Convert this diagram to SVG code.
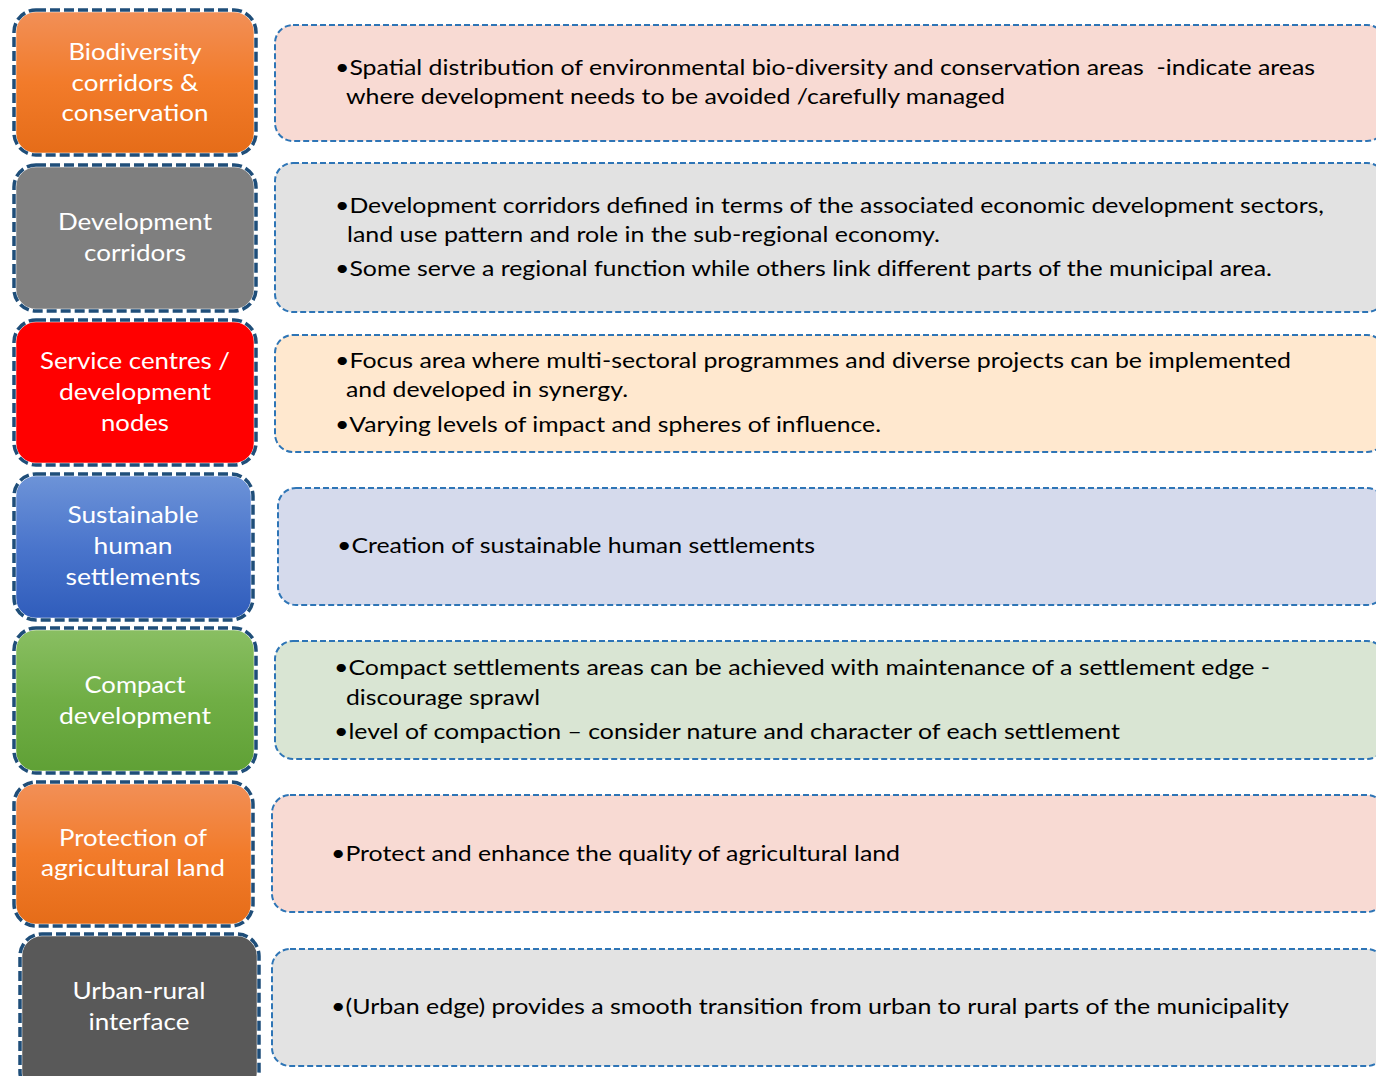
<svg xmlns="http://www.w3.org/2000/svg" width="1376" height="1076" viewBox="0 0 1376 1076">
<defs>
<linearGradient id="gOrange" x1="0" y1="0" x2="0" y2="1"><stop offset="0" stop-color="#F29058"/><stop offset="0.5" stop-color="#F27B2A"/><stop offset="1" stop-color="#E56C18"/></linearGradient>
<linearGradient id="gBlue" x1="0" y1="0" x2="0" y2="1"><stop offset="0" stop-color="#6E94D8"/><stop offset="0.5" stop-color="#4A75CC"/><stop offset="1" stop-color="#2F5CBB"/></linearGradient>
<linearGradient id="gGreen" x1="0" y1="0" x2="0" y2="1"><stop offset="0" stop-color="#8ABF63"/><stop offset="0.5" stop-color="#70AE45"/><stop offset="1" stop-color="#5FA035"/></linearGradient>
</defs>
<style>
.lw{fill:none;stroke:#ffffff;stroke-width:4.5}
.ld{fill:none;stroke:#1F4E79;stroke-width:3.5;stroke-dasharray:10 4}
.rb{stroke:#2E75B6;stroke-width:2;stroke-dasharray:6 3}
.lt{font-family:Lato,"Open Sans","Liberation Sans",sans-serif;font-size:24px;fill:#ffffff;text-anchor:middle}
.rt{font-family:Lato,"Open Sans","Liberation Sans",sans-serif;font-size:22px;fill:#000000}
</style>
<rect width="1376" height="1076" fill="#ffffff"/>
<g id="connectors"/>

<g id="node-biodiversity">
<rect x="14" y="10" width="242" height="145" rx="22" fill="url(#gOrange)"/>
<rect x="14" y="10" width="242" height="145" rx="22" class="lw"/>
<rect x="14" y="10" width="242" height="145" rx="22" class="ld"/>
<text class="lt" x="135" y="60" textLength="133" lengthAdjust="spacingAndGlyphs">Biodiversity</text>
<text class="lt" x="135" y="91" textLength="127" lengthAdjust="spacingAndGlyphs">corridors &amp;</text>
<text class="lt" x="135" y="121" textLength="147" lengthAdjust="spacingAndGlyphs">conservation</text>
</g>
<g id="desc-biodiversity">
<rect x="275" y="25" width="1110" height="116" rx="18" fill="#F8DAD3" class="rb"/>
<text class="rt" x="335" y="75" textLength="980" lengthAdjust="spacingAndGlyphs">•Spatial distribution of environmental bio-diversity and conservation areas &#160;-indicate areas</text>
<text class="rt" x="346" y="104" textLength="659" lengthAdjust="spacingAndGlyphs">where development needs to be avoided /carefully managed</text>
</g>

<g id="node-devcorridors">
<rect x="14" y="165" width="242" height="146" rx="22" fill="#7F7F7F"/>
<rect x="14" y="165" width="242" height="146" rx="22" class="lw"/>
<rect x="14" y="165" width="242" height="146" rx="22" class="ld"/>
<text class="lt" x="135" y="230" textLength="154" lengthAdjust="spacingAndGlyphs">Development</text>
<text class="lt" x="135" y="261" textLength="102" lengthAdjust="spacingAndGlyphs">corridors</text>
</g>
<g id="desc-devcorridors">
<rect x="275" y="163" width="1110" height="149" rx="18" fill="#E2E2E2" class="rb"/>
<text class="rt" x="335" y="213" textLength="989" lengthAdjust="spacingAndGlyphs">•Development corridors defined in terms of the associated economic development sectors,</text>
<text class="rt" x="347" y="242" textLength="593" lengthAdjust="spacingAndGlyphs">land use pattern and role in the sub-regional economy.</text>
<text class="rt" x="335" y="276" textLength="937" lengthAdjust="spacingAndGlyphs">•Some serve a regional function while others link different parts of the municipal area.</text>
</g>

<g id="node-service">
<rect x="14" y="320" width="242" height="145" rx="22" fill="#FF0000"/>
<rect x="14" y="320" width="242" height="145" rx="22" class="lw"/>
<rect x="14" y="320" width="242" height="145" rx="22" class="ld"/>
<text class="lt" x="135" y="369" textLength="190" lengthAdjust="spacingAndGlyphs">Service centres /</text>
<text class="lt" x="135" y="400" textLength="152" lengthAdjust="spacingAndGlyphs">development</text>
<text class="lt" x="135" y="431" textLength="68" lengthAdjust="spacingAndGlyphs">nodes</text>
</g>
<g id="desc-service">
<rect x="275" y="335" width="1110" height="117" rx="18" fill="#FFE8CF" class="rb"/>
<text class="rt" x="335" y="368" textLength="956" lengthAdjust="spacingAndGlyphs">•Focus area where multi-sectoral programmes and diverse projects can be implemented</text>
<text class="rt" x="346" y="397" textLength="282" lengthAdjust="spacingAndGlyphs">and developed in synergy.</text>
<text class="rt" x="335" y="432" textLength="546" lengthAdjust="spacingAndGlyphs">•Varying levels of impact and spheres of influence.</text>
</g>

<g id="node-sustainable">
<rect x="14" y="474" width="239" height="146" rx="22" fill="url(#gBlue)"/>
<rect x="14" y="474" width="239" height="146" rx="22" class="lw"/>
<rect x="14" y="474" width="239" height="146" rx="22" class="ld"/>
<text class="lt" x="133" y="523" textLength="131" lengthAdjust="spacingAndGlyphs">Sustainable</text>
<text class="lt" x="133" y="554" textLength="79" lengthAdjust="spacingAndGlyphs">human</text>
<text class="lt" x="133" y="585" textLength="135" lengthAdjust="spacingAndGlyphs">settlements</text>
</g>
<g id="desc-sustainable">
<rect x="278" y="488" width="1107" height="117" rx="18" fill="#D5DAEC" class="rb"/>
<text class="rt" x="337" y="553" textLength="478" lengthAdjust="spacingAndGlyphs">•Creation of sustainable human settlements</text>
</g>

<g id="node-compact">
<rect x="14" y="628" width="242" height="145" rx="22" fill="url(#gGreen)"/>
<rect x="14" y="628" width="242" height="145" rx="22" class="lw"/>
<rect x="14" y="628" width="242" height="145" rx="22" class="ld"/>
<text class="lt" x="135" y="693" textLength="101" lengthAdjust="spacingAndGlyphs">Compact</text>
<text class="lt" x="135" y="724" textLength="152" lengthAdjust="spacingAndGlyphs">development</text>
</g>
<g id="desc-compact">
<rect x="275" y="641" width="1110" height="118" rx="18" fill="#D9E5D3" class="rb"/>
<text class="rt" x="334" y="675" textLength="936" lengthAdjust="spacingAndGlyphs">•Compact settlements areas can be achieved with maintenance of a settlement edge -</text>
<text class="rt" x="346" y="705" textLength="194" lengthAdjust="spacingAndGlyphs">discourage sprawl</text>
<text class="rt" x="334" y="739" textLength="786" lengthAdjust="spacingAndGlyphs">•level of compaction – consider nature and character of each settlement</text>
</g>

<g id="node-agri">
<rect x="14" y="782" width="239" height="144" rx="22" fill="url(#gOrange)"/>
<rect x="14" y="782" width="239" height="144" rx="22" class="lw"/>
<rect x="14" y="782" width="239" height="144" rx="22" class="ld"/>
<text class="lt" x="133" y="846" textLength="148" lengthAdjust="spacingAndGlyphs">Protection of</text>
<text class="lt" x="133" y="876" textLength="184" lengthAdjust="spacingAndGlyphs">agricultural land</text>
</g>
<g id="desc-agri">
<rect x="272" y="795" width="1113" height="117" rx="18" fill="#F8DAD3" class="rb"/>
<text class="rt" x="331" y="861" textLength="569" lengthAdjust="spacingAndGlyphs">•Protect and enhance the quality of agricultural land</text>
</g>

<g id="node-urban">
<rect x="20" y="934" width="239" height="160" rx="22" fill="#595959"/>
<rect x="20" y="934" width="239" height="160" rx="22" class="lw"/>
<rect x="20" y="934" width="239" height="160" rx="22" class="ld"/>
<text class="lt" x="139" y="999" textLength="133" lengthAdjust="spacingAndGlyphs">Urban-rural</text>
<text class="lt" x="139" y="1030" textLength="101" lengthAdjust="spacingAndGlyphs">interface</text>
</g>
<g id="desc-urban">
<rect x="272" y="949" width="1113" height="117" rx="18" fill="#E3E3E3" class="rb"/>
<text class="rt" x="331" y="1014" textLength="958" lengthAdjust="spacingAndGlyphs">•(Urban edge) provides a smooth transition from urban to rural parts of the municipality</text>
</g>
</svg>
